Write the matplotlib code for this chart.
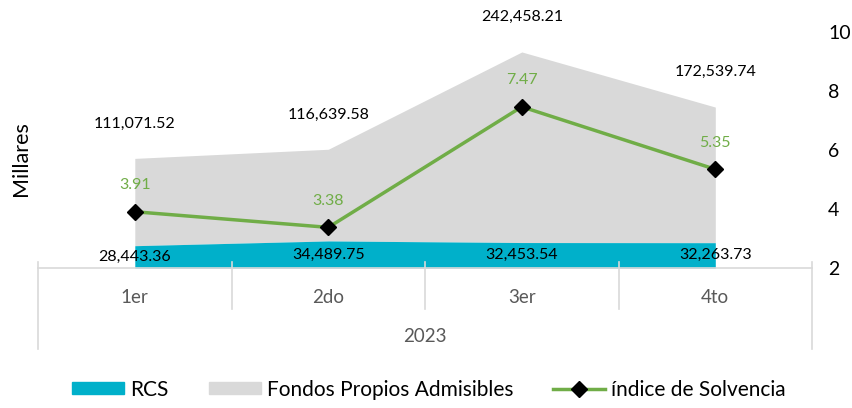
import numpy as np
import matplotlib
matplotlib.use('Agg')
import matplotlib.pyplot as plt
from matplotlib.patches import Patch
from matplotlib.lines import Line2D
import matplotlib.transforms as mtrans

plt.rcParams['font.family'] = ['Lato', 'DejaVu Sans']

# --- data ---
trimestres = ['1er', '2do', '3er', '4to']
anio = '2023'
rcs = np.array([28443.36, 34489.75, 32453.54, 32263.73])
fondos = np.array([111071.52, 116639.58, 242458.21, 172539.74])
indice = np.array([3.91, 3.38, 7.47, 5.35])

c_rcs = '#00B0CA'
c_fondos = '#D9D9D9'
c_line = '#70AD47'
c_axis = '#D9D9D9'
c_txt = '#595959'

fig = plt.figure(figsize=(8.53, 4.08), dpi=100)
ax = fig.add_axes([0.0446, 0.343, 0.9074, 0.578])
x = np.arange(len(trimestres))

# stacked areas
ax.fill_between(x, 0, rcs, color=c_rcs, lw=0, zorder=2)
ax.fill_between(x, rcs, rcs + fondos, color=c_fondos, lw=0, zorder=1)
ax.set_xlim(-0.5, len(trimestres) - 0.5)
ax.set_ylim(0, 300000)
ax.set_yticks([])
ax.set_xticks([])
for s in ax.spines.values():
    s.set_visible(False)

for i in x:
    ax.annotate(f'{fondos[i]:,.2f}', (i, rcs[i] + fondos[i]), xytext=(0, 20),
                textcoords='offset points', ha='center', va='bottom', fontsize=11.5, zorder=6)
    ax.annotate(f'{rcs[i]:,.2f}', (i, rcs[i] / 2), ha='center', va='center',
                fontsize=11.5, zorder=6)

ax.text(-0.022, 0.466, 'Millares', transform=ax.transAxes, rotation=90,
        ha='center', va='center', fontsize=15.5)

# category axis drawn below
tr = mtrans.blended_transform_factory(ax.transData, ax.transAxes)
ax.plot([-0.5, len(trimestres) - 0.5], [0, 0], color=c_axis, lw=1.2, transform=tr, clip_on=False, zorder=3)
bounds = np.arange(len(trimestres) + 1) - 0.5
for k, b in enumerate(bounds):
    low = -0.343 if k in (0, len(bounds) - 1) else -0.174
    ax.plot([b, b], [0.025, low], color=c_axis, lw=1.2, transform=tr, clip_on=False, zorder=3)
for i, t in enumerate(trimestres):
    ax.text(i, -0.123, t, transform=tr, ha='center', va='center', fontsize=13.5, color=c_txt)
ax.text((len(trimestres) - 1) / 2, -0.292, anio, transform=tr, ha='center', va='center',
        fontsize=13.5, color=c_txt)

# secondary axis
ax2 = ax.twinx()
ax2.plot(x, indice, color=c_line, lw=2.5, marker='D', ms=8, mfc='black', mec='black', zorder=5)
ax2.set_ylim(2, 10)
ax2.set_yticks([2, 4, 6, 8, 10])
ax2.tick_params(axis='y', length=0, pad=11.5, labelsize=14)
for s in ax2.spines.values():
    s.set_visible(False)
for i in x:
    ax2.annotate(f'{indice[i]:.2f}', (i, indice[i]), xytext=(0, 14), textcoords='offset points',
                 ha='center', va='bottom', fontsize=11.5, color=c_line)

handles = [Patch(color=c_rcs), Patch(color=c_fondos),
           Line2D([], [], color=c_line, lw=2.5, marker='D', ms=8, mfc='black', mec='black')]
labels = ['RCS', 'Fondos Propios Admisibles', 'índice de Solvencia']
fig.legend(handles, labels, loc='center', bbox_to_anchor=(0.503, 0.045), ncol=3, frameon=False,
           fontsize=15, handlelength=2.5, handleheight=0.5, columnspacing=1.9, handletextpad=0.3)

fig.savefig('out.png', dpi=100)
